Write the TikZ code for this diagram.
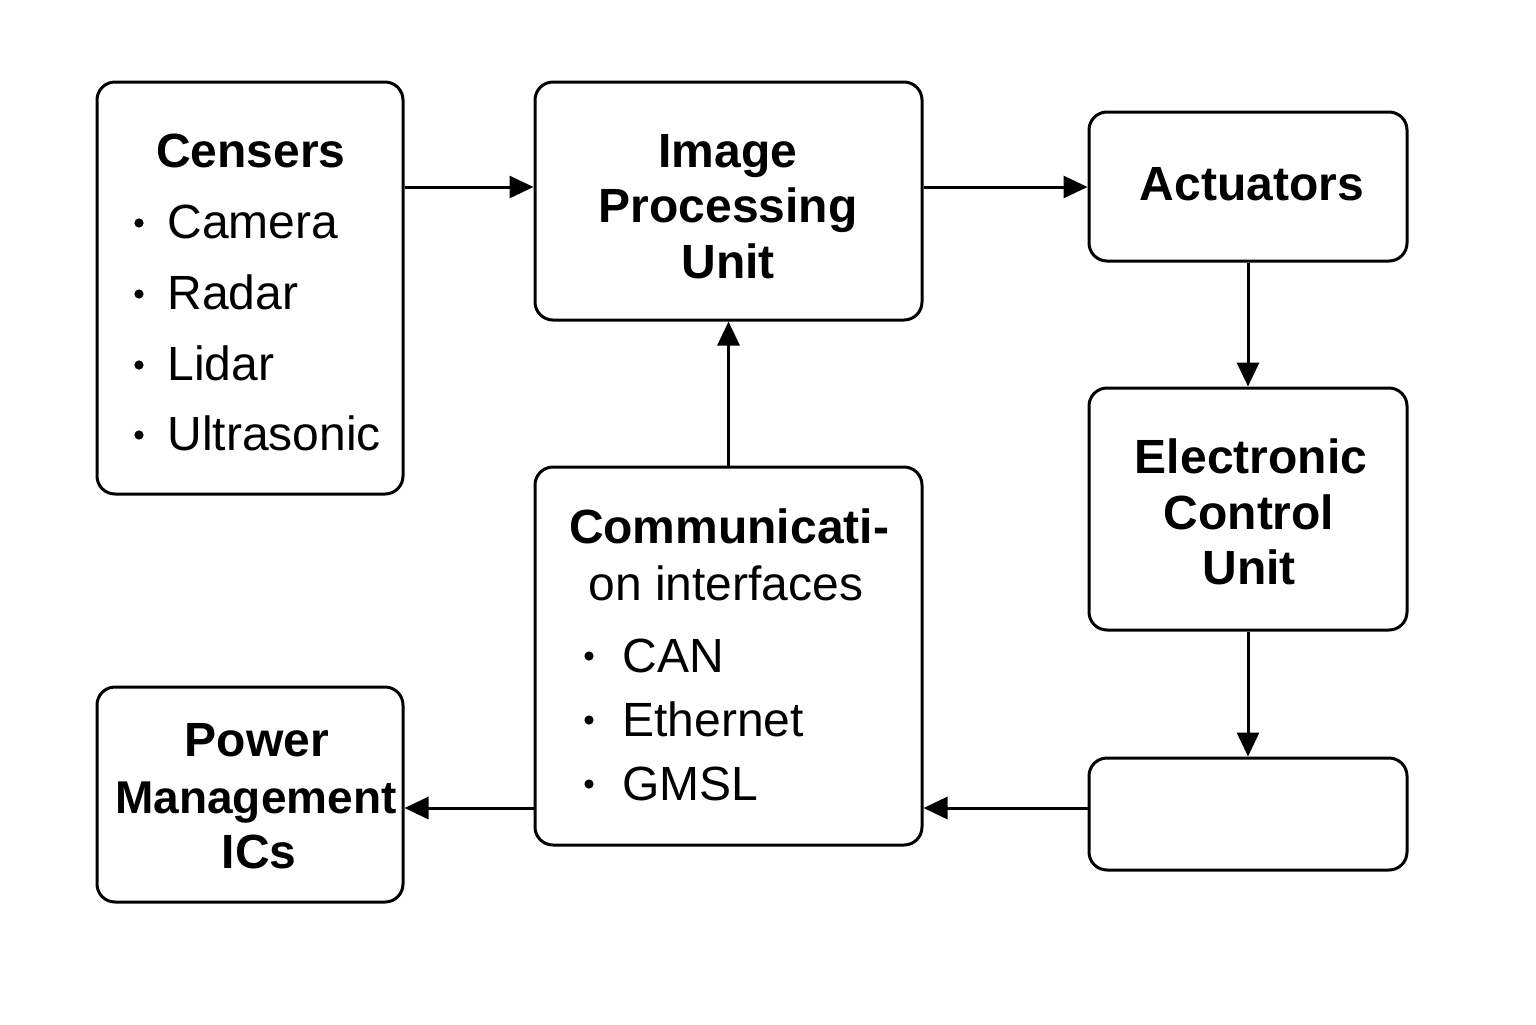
\documentclass[tikz,border=0pt]{standalone}
\usepackage{fontspec}
\setmainfont{Liberation Sans}
\usetikzlibrary{arrows.meta}
\begin{document}
\begin{tikzpicture}[x=0.5pt,y=-0.5pt,
  box/.style={draw, line width=1.5pt, rounded corners=9pt, inner sep=0pt},
  ttl/.style={font=\fontsize{24}{28}\selectfont\bfseries, anchor=base, inner sep=0pt},
  reg/.style={font=\fontsize{24}{28}\selectfont, anchor=base, inner sep=0pt},
  itm/.style={font=\fontsize{24}{28}\selectfont, anchor=base west, inner sep=0pt},
  arr/.style={line width=1.5pt, -{Triangle[length=12pt,width=11pt]}}]
\useasboundingbox (0,0) rectangle (1536,1024);
\fill[white] (0,0) rectangle (1536,1024);
% boxes
\node[box, minimum width=153pt, minimum height=206pt] (sens) at (250,288) {};
\node[box, minimum width=193.5pt, minimum height=119pt] (ipu) at (728.5,201) {};
\node[box, minimum width=159pt, minimum height=74.5pt] (act) at (1248,186.5) {};
\node[box, minimum width=159pt, minimum height=121pt] (ecu) at (1248,509) {};
\node[box, minimum width=159pt, minimum height=56pt] (emp) at (1248,814) {};
\node[box, minimum width=193.5pt, minimum height=189pt] (comm) at (728.5,656) {};
\node[box, minimum width=153pt, minimum height=107.5pt] (pow) at (250,794.5) {};
% texts
\node[ttl] (sensT) at (251,167) {Censers};
\node[itm] (cam) at (167,238) {Camera};
\node[itm] (rad) at (167,309) {Radar};
\node[itm] (lid) at (167,380) {Lidar};
\node[itm] (ult) at (167,450) {Ultrasonic};
\foreach \n in {cam,rad,lid,ult} \fill ([shift={(-28,-15)}]\n.base west) circle (2.3pt);
\node[ttl] (ipu1) at (728,167) {Image};
\node[ttl] (ipu2) at (728,222) {Processing};
\node[ttl] (ipu3) at (728,278) {Unit};
\node[ttl] (actT) at (1252,200) {Actuators};
\node[ttl] (ecu1) at (1251,473) {Electronic};
\node[ttl] (ecu2) at (1249,529) {Control};
\node[ttl] (ecu3) at (1249,584) {Unit};
\node[ttl] (com1) at (729,543) {Communicati-};
\node[reg] (com2) at (726,600) {on interfaces};
\node[itm] (can) at (622,672) {CAN};
\node[itm] (eth) at (622,736) {Ethernet};
\node[itm] (gmsl) at (622,800) {GMSL};
\foreach \n in {can,eth,gmsl} \fill ([shift={(-33,-16)}]\n.base west) circle (2.3pt);
\node[ttl] (pow1) at (257,756) {Power};
\node[ttl, font=\fontsize{23}{28}\selectfont\bfseries] (pow2) at (256,813) {Management};
\node[ttl] (pow3) at (259,868) {ICs};
% connectors
\coordinate (toprow) at (0,187);
\coordinate (lowrow) at (0,808);
\draw[arr] (sens.east |- toprow) -- (ipu.west |- toprow);
\draw[arr] (ipu.east |- toprow) -- (act.west |- toprow);
\draw[arr] (act.south) -- (ecu.north);
\draw[arr] (ecu.south) -- (emp.north);
\draw[arr] (emp.west |- lowrow) -- (comm.east |- lowrow);
\draw[arr] (comm.north) -- (ipu.south);
\draw[arr] (comm.west |- lowrow) -- (pow.east |- lowrow);
\end{tikzpicture}
\end{document}
